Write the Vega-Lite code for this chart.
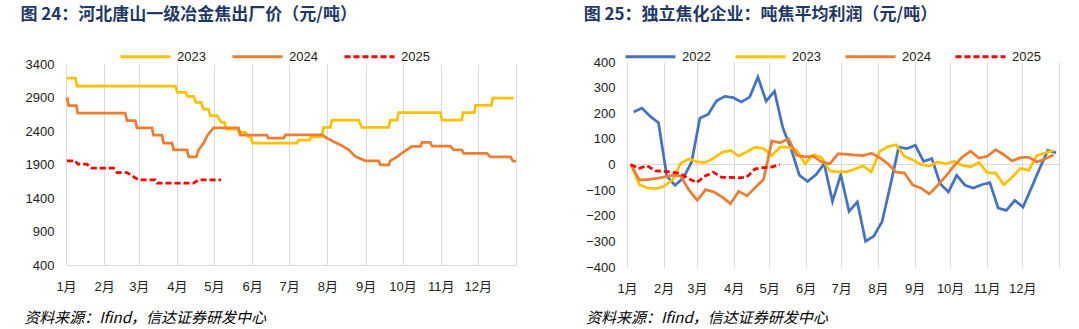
{
  "$schema": "https://vega.github.io/schema/vega-lite/v6.json",
  "background": "white",
  "padding": {"left": 20, "top": 6, "right": 5, "bottom": 0},
  "autosize": {"type": "pad"},
  "config": {"view": {"stroke": null}, "font": "Liberation Sans, Noto Sans CJK SC"},
  "bounds": "flush",
  "spacing": 111,
  "center": true,
  "resolve": {"scale": {"color": "independent", "strokeDash": "independent", "x": "independent", "y": "independent"}, "legend": {"color": "independent", "strokeDash": "independent"}},
  "datasets": {
    "blank": [{"k": 1}],
    "left": [
      {"s": "2023", "d": 0.8, "v": 3190}, {"s": "2023", "d": 7.6, "v": 3190}, {"s": "2023", "d": 9, "v": 3070}, {"s": "2023", "d": 88.6, "v": 3070},
      {"s": "2023", "d": 90.5, "v": 2976}, {"s": "2023", "d": 97, "v": 2976}, {"s": "2023", "d": 98.5, "v": 2917}, {"s": "2023", "d": 103.5, "v": 2917},
      {"s": "2023", "d": 105.5, "v": 2827}, {"s": "2023", "d": 109.5, "v": 2827}, {"s": "2023", "d": 111.5, "v": 2727}, {"s": "2023", "d": 115.5, "v": 2727},
      {"s": "2023", "d": 117, "v": 2628}, {"s": "2023", "d": 122.5, "v": 2628}, {"s": "2023", "d": 126, "v": 2528}, {"s": "2023", "d": 128.5, "v": 2528},
      {"s": "2023", "d": 130, "v": 2428}, {"s": "2023", "d": 139, "v": 2428}, {"s": "2023", "d": 140.5, "v": 2378}, {"s": "2023", "d": 145.5, "v": 2378},
      {"s": "2023", "d": 148, "v": 2314}, {"s": "2023", "d": 149.5, "v": 2314}, {"s": "2023", "d": 151.5, "v": 2219}, {"s": "2023", "d": 187.4, "v": 2219},
      {"s": "2023", "d": 188.7, "v": 2264}, {"s": "2023", "d": 197.8, "v": 2264}, {"s": "2023", "d": 198.6, "v": 2314}, {"s": "2023", "d": 207.2, "v": 2314},
      {"s": "2023", "d": 209, "v": 2453}, {"s": "2023", "d": 214.4, "v": 2453}, {"s": "2023", "d": 215.7, "v": 2563}, {"s": "2023", "d": 237.4, "v": 2563},
      {"s": "2023", "d": 240, "v": 2453}, {"s": "2023", "d": 261.7, "v": 2453}, {"s": "2023", "d": 263, "v": 2563}, {"s": "2023", "d": 268.5, "v": 2563},
      {"s": "2023", "d": 269.8, "v": 2673}, {"s": "2023", "d": 303.6, "v": 2673}, {"s": "2023", "d": 305, "v": 2563}, {"s": "2023", "d": 321, "v": 2563},
      {"s": "2023", "d": 322, "v": 2673}, {"s": "2023", "d": 331.2, "v": 2673}, {"s": "2023", "d": 332.2, "v": 2782}, {"s": "2023", "d": 345, "v": 2782},
      {"s": "2023", "d": 346.1, "v": 2892}, {"s": "2023", "d": 363.1, "v": 2892},
      {"s": "2024", "d": 0.8, "v": 2902}, {"s": "2024", "d": 2.2, "v": 2777}, {"s": "2024", "d": 8.4, "v": 2777}, {"s": "2024", "d": 9.5, "v": 2667},
      {"s": "2024", "d": 48, "v": 2667}, {"s": "2024", "d": 49.5, "v": 2553}, {"s": "2024", "d": 56.2, "v": 2553}, {"s": "2024", "d": 57.6, "v": 2448},
      {"s": "2024", "d": 69.7, "v": 2448}, {"s": "2024", "d": 71, "v": 2339}, {"s": "2024", "d": 77.8, "v": 2339}, {"s": "2024", "d": 79.2, "v": 2219},
      {"s": "2024", "d": 86, "v": 2219}, {"s": "2024", "d": 87.3, "v": 2119}, {"s": "2024", "d": 98.1, "v": 2119}, {"s": "2024", "d": 99.5, "v": 2015},
      {"s": "2024", "d": 105.7, "v": 2015}, {"s": "2024", "d": 107.6, "v": 2119}, {"s": "2024", "d": 111.6, "v": 2219}, {"s": "2024", "d": 114.9, "v": 2339},
      {"s": "2024", "d": 119.7, "v": 2448}, {"s": "2024", "d": 140, "v": 2448}, {"s": "2024", "d": 141.4, "v": 2339}, {"s": "2024", "d": 163, "v": 2339},
      {"s": "2024", "d": 164, "v": 2293}, {"s": "2024", "d": 176.6, "v": 2293}, {"s": "2024", "d": 178, "v": 2344}, {"s": "2024", "d": 207.6, "v": 2344},
      {"s": "2024", "d": 211.7, "v": 2293}, {"s": "2024", "d": 218.5, "v": 2229}, {"s": "2024", "d": 223.9, "v": 2180}, {"s": "2024", "d": 229.3, "v": 2120},
      {"s": "2024", "d": 234.7, "v": 2020}, {"s": "2024", "d": 242.8, "v": 1955}, {"s": "2024", "d": 253.6, "v": 1955}, {"s": "2024", "d": 255, "v": 1895},
      {"s": "2024", "d": 261.7, "v": 1895}, {"s": "2024", "d": 263.1, "v": 1955}, {"s": "2024", "d": 268.5, "v": 2015}, {"s": "2024", "d": 275.2, "v": 2105},
      {"s": "2024", "d": 280.6, "v": 2169}, {"s": "2024", "d": 287.4, "v": 2169}, {"s": "2024", "d": 288.7, "v": 2229}, {"s": "2024", "d": 295.5, "v": 2229},
      {"s": "2024", "d": 296.9, "v": 2174}, {"s": "2024", "d": 311.8, "v": 2174}, {"s": "2024", "d": 314.4, "v": 2120}, {"s": "2024", "d": 321.2, "v": 2120},
      {"s": "2024", "d": 322.5, "v": 2065}, {"s": "2024", "d": 341.4, "v": 2065}, {"s": "2024", "d": 344.2, "v": 2015}, {"s": "2024", "d": 360.4, "v": 2015},
      {"s": "2024", "d": 362.6, "v": 1950}, {"s": "2024", "d": 365, "v": 1950},
      {"s": "2025", "d": 0.8, "v": 1955}, {"s": "2025", "d": 7.6, "v": 1955}, {"s": "2025", "d": 9.5, "v": 1905}, {"s": "2025", "d": 17, "v": 1905},
      {"s": "2025", "d": 21, "v": 1845}, {"s": "2025", "d": 38.6, "v": 1845}, {"s": "2025", "d": 41.4, "v": 1780}, {"s": "2025", "d": 49.5, "v": 1780},
      {"s": "2025", "d": 53.5, "v": 1731}, {"s": "2025", "d": 58.9, "v": 1671}, {"s": "2025", "d": 72.4, "v": 1671}, {"s": "2025", "d": 73.8, "v": 1621},
      {"s": "2025", "d": 103.5, "v": 1621}, {"s": "2025", "d": 107.6, "v": 1671}, {"s": "2025", "d": 125.7, "v": 1671}
    ],
    "right": [
      {"s": "2022", "d": 5.6, "v": 205}, {"s": "2022", "d": 12.6, "v": 220}, {"s": "2022", "d": 19.6, "v": 188}, {"s": "2022", "d": 26.6, "v": 163},
      {"s": "2022", "d": 33.6, "v": -45}, {"s": "2022", "d": 40.6, "v": -81}, {"s": "2022", "d": 47.6, "v": -53}, {"s": "2022", "d": 54.6, "v": 10},
      {"s": "2022", "d": 61.6, "v": 181}, {"s": "2022", "d": 68.6, "v": 196}, {"s": "2022", "d": 75.6, "v": 248}, {"s": "2022", "d": 82.6, "v": 266},
      {"s": "2022", "d": 89.6, "v": 261}, {"s": "2022", "d": 96.6, "v": 244}, {"s": "2022", "d": 103.6, "v": 263}, {"s": "2022", "d": 110.6, "v": 341},
      {"s": "2022", "d": 117.6, "v": 247}, {"s": "2022", "d": 124.6, "v": 286}, {"s": "2022", "d": 131.6, "v": 144}, {"s": "2022", "d": 138.6, "v": 62},
      {"s": "2022", "d": 145.6, "v": -42}, {"s": "2022", "d": 152.6, "v": -66}, {"s": "2022", "d": 159.6, "v": -40}, {"s": "2022", "d": 166.6, "v": 3},
      {"s": "2022", "d": 173.6, "v": -144}, {"s": "2022", "d": 180.6, "v": -40}, {"s": "2022", "d": 187.6, "v": -183}, {"s": "2022", "d": 194.6, "v": -146},
      {"s": "2022", "d": 201.6, "v": -300}, {"s": "2022", "d": 208.6, "v": -279}, {"s": "2022", "d": 215.6, "v": -222}, {"s": "2022", "d": 222.6, "v": -80},
      {"s": "2022", "d": 229.6, "v": 68}, {"s": "2022", "d": 236.6, "v": 62}, {"s": "2022", "d": 243.6, "v": 75}, {"s": "2022", "d": 250.6, "v": 12},
      {"s": "2022", "d": 257.6, "v": 23}, {"s": "2022", "d": 264.6, "v": -75}, {"s": "2022", "d": 271.6, "v": -107}, {"s": "2022", "d": 278.6, "v": -42},
      {"s": "2022", "d": 285.6, "v": -81}, {"s": "2022", "d": 292.6, "v": -92}, {"s": "2022", "d": 299.6, "v": -79}, {"s": "2022", "d": 306.6, "v": -71},
      {"s": "2022", "d": 313.6, "v": -170}, {"s": "2022", "d": 320.6, "v": -179}, {"s": "2022", "d": 327.6, "v": -140}, {"s": "2022", "d": 334.6, "v": -166},
      {"s": "2022", "d": 341.6, "v": -92}, {"s": "2022", "d": 348.6, "v": -16}, {"s": "2022", "d": 355.6, "v": 55}, {"s": "2022", "d": 362.6, "v": 46},
      {"s": "2023", "d": 3.4, "v": 0}, {"s": "2023", "d": 10.4, "v": -78}, {"s": "2023", "d": 17.4, "v": -92}, {"s": "2023", "d": 24.4, "v": -94},
      {"s": "2023", "d": 31.4, "v": -85}, {"s": "2023", "d": 38.4, "v": -60}, {"s": "2023", "d": 45.4, "v": 5}, {"s": "2023", "d": 52.4, "v": 22},
      {"s": "2023", "d": 59.4, "v": 10}, {"s": "2023", "d": 66.4, "v": 8}, {"s": "2023", "d": 73.4, "v": 25}, {"s": "2023", "d": 80.4, "v": 48},
      {"s": "2023", "d": 87.4, "v": 55}, {"s": "2023", "d": 94.4, "v": 33}, {"s": "2023", "d": 101.4, "v": 50}, {"s": "2023", "d": 108.4, "v": 68},
      {"s": "2023", "d": 115.4, "v": 62}, {"s": "2023", "d": 122.4, "v": 35}, {"s": "2023", "d": 129.4, "v": 68}, {"s": "2023", "d": 136.4, "v": 68},
      {"s": "2023", "d": 143.4, "v": 55}, {"s": "2023", "d": 150.4, "v": 3}, {"s": "2023", "d": 157.4, "v": 38}, {"s": "2023", "d": 164.4, "v": 27},
      {"s": "2023", "d": 171.4, "v": -25}, {"s": "2023", "d": 178.4, "v": -29}, {"s": "2023", "d": 185.4, "v": -29}, {"s": "2023", "d": 192.4, "v": -18},
      {"s": "2023", "d": 199.4, "v": -5}, {"s": "2023", "d": 206.4, "v": -29}, {"s": "2023", "d": 213.4, "v": 50}, {"s": "2023", "d": 220.4, "v": 70},
      {"s": "2023", "d": 227.4, "v": 77}, {"s": "2023", "d": 234.4, "v": 32}, {"s": "2023", "d": 241.4, "v": 18}, {"s": "2023", "d": 248.4, "v": 0},
      {"s": "2023", "d": 255.4, "v": -6}, {"s": "2023", "d": 262.4, "v": 10}, {"s": "2023", "d": 269.4, "v": 3}, {"s": "2023", "d": 276.4, "v": 12},
      {"s": "2023", "d": 283.4, "v": -4}, {"s": "2023", "d": 290.4, "v": -9}, {"s": "2023", "d": 297.4, "v": 8}, {"s": "2023", "d": 304.4, "v": -32},
      {"s": "2023", "d": 311.4, "v": -33}, {"s": "2023", "d": 318.4, "v": -79}, {"s": "2023", "d": 325.4, "v": -50}, {"s": "2023", "d": 332.4, "v": -15},
      {"s": "2023", "d": 339.4, "v": -23}, {"s": "2023", "d": 346.4, "v": 35}, {"s": "2023", "d": 353.4, "v": 45}, {"s": "2023", "d": 360.4, "v": 55},
      {"s": "2024", "d": 3.4, "v": 0}, {"s": "2024", "d": 10.4, "v": -60}, {"s": "2024", "d": 17.4, "v": -59}, {"s": "2024", "d": 24.4, "v": -55},
      {"s": "2024", "d": 31.4, "v": -49}, {"s": "2024", "d": 38.4, "v": -42}, {"s": "2024", "d": 45.4, "v": -45}, {"s": "2024", "d": 52.4, "v": -100},
      {"s": "2024", "d": 59.4, "v": -140}, {"s": "2024", "d": 66.4, "v": -98}, {"s": "2024", "d": 73.4, "v": -107}, {"s": "2024", "d": 80.4, "v": -127},
      {"s": "2024", "d": 87.4, "v": -153}, {"s": "2024", "d": 94.4, "v": -105}, {"s": "2024", "d": 101.4, "v": -122}, {"s": "2024", "d": 108.4, "v": -90},
      {"s": "2024", "d": 115.4, "v": -58}, {"s": "2024", "d": 122.4, "v": 92}, {"s": "2024", "d": 129.4, "v": 85}, {"s": "2024", "d": 136.4, "v": 100},
      {"s": "2024", "d": 143.4, "v": 36}, {"s": "2024", "d": 150.4, "v": 30}, {"s": "2024", "d": 157.4, "v": 32}, {"s": "2024", "d": 164.4, "v": 10},
      {"s": "2024", "d": 171.4, "v": 3}, {"s": "2024", "d": 178.4, "v": 42}, {"s": "2024", "d": 185.4, "v": 40}, {"s": "2024", "d": 192.4, "v": 37},
      {"s": "2024", "d": 199.4, "v": 35}, {"s": "2024", "d": 206.4, "v": 44}, {"s": "2024", "d": 213.4, "v": 27}, {"s": "2024", "d": 220.4, "v": 3},
      {"s": "2024", "d": 227.4, "v": -30}, {"s": "2024", "d": 234.4, "v": -33}, {"s": "2024", "d": 241.4, "v": -80}, {"s": "2024", "d": 248.4, "v": -92},
      {"s": "2024", "d": 255.4, "v": -115}, {"s": "2024", "d": 262.4, "v": -82}, {"s": "2024", "d": 269.4, "v": -45}, {"s": "2024", "d": 276.4, "v": -5},
      {"s": "2024", "d": 283.4, "v": 30}, {"s": "2024", "d": 290.4, "v": 52}, {"s": "2024", "d": 297.4, "v": 25}, {"s": "2024", "d": 304.4, "v": 32},
      {"s": "2024", "d": 311.4, "v": 58}, {"s": "2024", "d": 318.4, "v": 38}, {"s": "2024", "d": 325.4, "v": 14}, {"s": "2024", "d": 332.4, "v": 27},
      {"s": "2024", "d": 339.4, "v": 28}, {"s": "2024", "d": 346.4, "v": 10}, {"s": "2024", "d": 353.4, "v": 22}, {"s": "2024", "d": 360.4, "v": 38},
      {"s": "2025", "d": 3, "v": 0}, {"s": "2025", "d": 10, "v": -15}, {"s": "2025", "d": 17, "v": -5}, {"s": "2025", "d": 24, "v": -25},
      {"s": "2025", "d": 31, "v": -27}, {"s": "2025", "d": 38, "v": -30}, {"s": "2025", "d": 45, "v": -35}, {"s": "2025", "d": 52, "v": -55},
      {"s": "2025", "d": 59, "v": -70}, {"s": "2025", "d": 66, "v": -45}, {"s": "2025", "d": 73, "v": -30}, {"s": "2025", "d": 80, "v": -50},
      {"s": "2025", "d": 87, "v": -50}, {"s": "2025", "d": 94, "v": -52}, {"s": "2025", "d": 101, "v": -50}, {"s": "2025", "d": 108, "v": -18},
      {"s": "2025", "d": 115, "v": -12}, {"s": "2025", "d": 122, "v": -10}, {"s": "2025", "d": 129, "v": 0}
    ]
  },
  "hconcat": [
    {
      "width": 450,
      "height": 201,
      "title": {"text": "图 24：河北唐山一级冶金焦出厂价（元/吨）", "anchor": "start", "frame": "bounds", "dx": -3.3, "offset": 6, "fontSize": 17, "fontWeight": "bold", "color": "#1f3864", "font": "Noto Sans CJK SC"},
      "layer": [
        {
          "data": {"name": "left"},
          "mark": {"type": "line", "strokeWidth": 2.75},
          "encoding": {
            "x": {"field": "d", "type": "quantitative", "scale": {"domain": [0, 365], "nice": false, "zero": false},
              "axis": {"values": [0, 31, 59, 90, 120, 151, 181, 212, 243, 273, 304, 334, 365], "tickCount": 100, "labelOverlap": false, "labelBound": false, "labelFlush": false, "labelExpr": "datum.value == 365 ? '' : (indexof([0,31,59,90,120,151,181,212,243,273,304,334], datum.value) + 1) + '月'",
                "grid": true, "gridColor": "#d9d9d9", "ticks": false, "domain": true, "domainColor": "#d9d9d9", "labelPadding": 15, "labelFontSize": 13, "labelColor": "#222", "labelFont": "Liberation Sans, Noto Sans CJK SC",
                "title": "资料来源：Ifind，信达证券研发中心", "titleFont": "Noto Sans CJK SC", "titleFontStyle": "italic", "titleFontWeight": "normal", "titleFontSize": 15, "titleColor": "#000",
                "titleX": -42.3, "titleY": 57.7, "titleAlign": "left", "titleBaseline": "alphabetic", "titleAngle": 0}},
            "y": {"field": "v", "type": "quantitative", "scale": {"domain": [400, 3400], "nice": false, "zero": false},
              "axis": {"values": [400, 900, 1400, 1900, 2400, 2900, 3400], "tickCount": 100, "labelOverlap": false, "labelFlush": false, "format": "d", "grid": false, "ticks": false, "domain": false, "labelPadding": 12, "labelFontSize": 13, "labelColor": "#222", "labelFont": "Liberation Sans", "title": null}},
            "color": {"field": "s", "type": "nominal", "scale": {"domain": ["2023", "2024", "2025"], "range": ["#FFC000", "#ED7D31", "#FF0000"]},
              "legend": {"title": null, "orient": "none", "legendX": 53, "legendY": -34, "direction": "horizontal", "symbolType": "stroke", "symbolSize": 2500, "symbolStrokeWidth": 3, "labelFontSize": 13, "labelFont": "Liberation Sans", "labelColor": "#222", "columnPadding": 20, "labelOffset": 5}},
            "strokeDash": {"field": "s", "type": "nominal", "scale": {"domain": ["2023", "2024", "2025"], "range": [[1, 0], [1, 0], [6, 3]]},
              "legend": {"title": null, "orient": "none", "legendX": 53, "legendY": -34, "direction": "horizontal", "symbolType": "stroke", "symbolSize": 2500, "symbolStrokeWidth": 3, "labelFontSize": 13, "labelFont": "Liberation Sans", "labelColor": "#222", "columnPadding": 20, "labelOffset": 5}}
          }
        }
      ]
    },
    {
      "width": 432,
      "height": 205,
      "title": {"text": "图 25：独立焦化企业：吨焦平均利润（元/吨）", "anchor": "start", "frame": "bounds", "dx": -1.7, "offset": 6, "fontSize": 17, "fontWeight": "bold", "color": "#1f3864", "font": "Noto Sans CJK SC"},
      "layer": [
        {
          "data": {"name": "blank"},
          "mark": {"type": "rule", "color": "#d9d9d9", "strokeWidth": 1},
          "encoding": {"y": {"datum": 0, "type": "quantitative"}}
        },
        {
          "data": {"name": "right"},
          "mark": {"type": "line", "strokeWidth": 2.75},
          "encoding": {
            "x": {"field": "d", "type": "quantitative", "scale": {"domain": [0, 365], "nice": false, "zero": false},
              "axis": {"values": [0, 31, 59, 90, 120, 151, 181, 212, 243, 273, 304, 334, 365], "tickCount": 100, "labelOverlap": false, "labelBound": false, "labelFlush": false, "labelExpr": "datum.value == 365 ? '' : (indexof([0,31,59,90,120,151,181,212,243,273,304,334], datum.value) + 1) + '月'",
                "grid": true, "gridColor": "#d9d9d9", "ticks": false, "domain": false, "labelPadding": 15, "labelFontSize": 13, "labelColor": "#222", "labelFont": "Liberation Sans, Noto Sans CJK SC",
                "title": "资料来源：Ifind，信达证券研发中心", "titleFont": "Noto Sans CJK SC", "titleFontStyle": "italic", "titleFontWeight": "normal", "titleFontSize": 15, "titleColor": "#000",
                "titleX": -41.6, "titleY": 55.7, "titleAlign": "left", "titleBaseline": "alphabetic", "titleAngle": 0}},
            "y": {"field": "v", "type": "quantitative", "scale": {"domain": [-400, 400], "nice": false, "zero": false},
              "axis": {"values": [-400, -300, -200, -100, 0, 100, 200, 300, 400], "tickCount": 100, "labelOverlap": false, "labelFlush": false, "format": "d", "grid": false, "ticks": false, "domain": false, "labelPadding": 12, "labelFontSize": 13, "labelColor": "#222", "labelFont": "Liberation Sans", "title": null}},
            "color": {"field": "s", "type": "nominal", "scale": {"domain": ["2022", "2023", "2024", "2025"], "range": ["#4472C4", "#FFC000", "#ED7D31", "#FF0000"]},
              "legend": {"title": null, "orient": "none", "legendX": -3, "legendY": -32, "direction": "horizontal", "symbolType": "stroke", "symbolSize": 2500, "symbolStrokeWidth": 3, "labelFontSize": 13, "labelFont": "Liberation Sans", "labelColor": "#222", "columnPadding": 18, "labelOffset": 5}},
            "strokeDash": {"field": "s", "type": "nominal", "scale": {"domain": ["2022", "2023", "2024", "2025"], "range": [[1, 0], [1, 0], [1, 0], [6, 3]]},
              "legend": {"title": null, "orient": "none", "legendX": -3, "legendY": -32, "direction": "horizontal", "symbolType": "stroke", "symbolSize": 2500, "symbolStrokeWidth": 3, "labelFontSize": 13, "labelFont": "Liberation Sans", "labelColor": "#222", "columnPadding": 18, "labelOffset": 5}}
          }
        }
      ]
    }
  ]
}
